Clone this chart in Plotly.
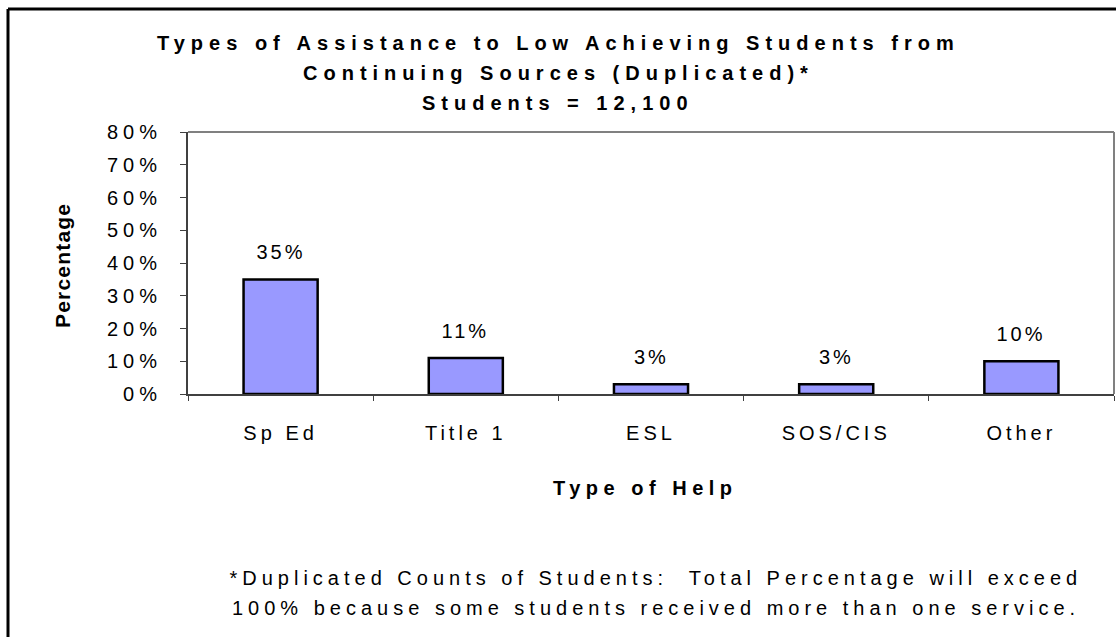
import plotly.graph_objects as go

# Data
categories = ["Sp Ed", "Title 1", "ESL", "SOS/CIS", "Other"]
percentages = [35, 11, 3, 3, 10]
y_tick_values = [0, 10, 20, 30, 40, 50, 60, 70, 80]
y_tick_labels = ["0%", "10%", "20%", "30%", "40%", "50%", "60%", "70%", "80%"]

title_lines = [
    "Types of Assistance to Low Achieving Students from",
    "Continuing Sources (Duplicated)*",
    "Students = 12,100",
]
footnote_lines = [
    "*Duplicated Counts of Students:  Total Percentage will exceed",
    "100% because some students received more than one service.",
]

W, H = 1116, 637
L, R, T, B = 188, 1114, 132, 394  # plot area in pixels
FONT = "Liberation Sans, Arial, sans-serif"


def px_x(x):
    return (x - L) / (R - L)


def px_y(y):
    return (B - y) / (B - T)


fig = go.Figure()
fig.add_trace(go.Bar(
    x=categories,
    y=percentages,
    marker=dict(color="#9999FF", line=dict(color="#000000", width=2.5)),
    width=0.4,
    hoverinfo="skip",
))

annotations = []
spacing = []

# title lines
for text, yc in zip(title_lines, [43, 73, 103]):
    annotations.append(dict(
        text=text, xref="paper", yref="paper", x=px_x(558), y=px_y(yc),
        xanchor="center", yanchor="middle", showarrow=False,
        font=dict(family=FONT, size=20, color="#000", weight="bold"),
    ))
    spacing.append(6.0)

# value labels above bars
for c, v in zip(categories, percentages):
    annotations.append(dict(
        text=f"{v}%", x=c, y=v, xref="x", yref="y", yshift=27,
        xanchor="center", yanchor="middle", showarrow=False,
        font=dict(family=FONT, size=20, color="#000"),
    ))
    spacing.append(3.0)

# axis titles
annotations.append(dict(
    text="Type of Help", xref="paper", yref="paper", x=px_x(645), y=px_y(488),
    xanchor="center", yanchor="middle", showarrow=False,
    font=dict(family=FONT, size=20, color="#000", weight="bold"),
))
spacing.append(5.5)
annotations.append(dict(
    text="Percentage", xref="paper", yref="paper", x=px_x(62), y=px_y(266),
    xanchor="center", yanchor="middle", showarrow=False, textangle=-90,
    font=dict(family=FONT, size=21, color="#000", weight="bold"),
))
spacing.append(1.2)

# footnote
for text, yc in zip(footnote_lines, [578, 608]):
    annotations.append(dict(
        text=text, xref="paper", yref="paper", x=px_x(656), y=px_y(yc),
        xanchor="center", yanchor="middle", showarrow=False,
        font=dict(family=FONT, size=20, color="#000"),
    ))
    spacing.append(5.0)

shapes = [
    # outer frame (top and left edges; the rest runs past the page)
    dict(type="line", xref="paper", yref="paper", x0=px_x(8), x1=px_x(1130),
         y0=px_y(9), y1=px_y(9), line=dict(color="#000", width=3)),
    dict(type="line", xref="paper", yref="paper", x0=px_x(8), x1=px_x(8),
         y0=px_y(9), y1=px_y(660), line=dict(color="#000", width=3)),
    # plot area top and right edges
    dict(type="line", xref="paper", yref="paper", x0=0, x1=1, y0=1, y1=1,
         line=dict(color="#808080", width=2)),
    dict(type="line", xref="paper", yref="paper", x0=1, x1=1, y0=0, y1=1,
         line=dict(color="#808080", width=2)),
]

fig.update_layout(
    width=W, height=H, autosize=False,
    margin=dict(l=L, r=W - R, t=T, b=H - B, pad=0),
    paper_bgcolor="#FFFFFF", plot_bgcolor="#FFFFFF",
    showlegend=False, bargap=0.6,
    font=dict(family=FONT, size=20, color="#000"),
    annotations=annotations, shapes=shapes,
    xaxis=dict(
        type="category", showgrid=False, zeroline=False,
        showline=True, linecolor="#404040", linewidth=2,
        ticks="outside", tickson="boundaries", ticklen=5, tickcolor="#404040",
        tickwidth=1, ticklabelstandoff=20,
        tickfont=dict(family=FONT, size=20, color="#000"),
    ),
    yaxis=dict(
        range=[0, 80], tickvals=y_tick_values, ticktext=y_tick_labels,
        showgrid=False, zeroline=False,
        showline=True, linecolor="#404040", linewidth=2,
        ticks="outside", ticklen=6, tickcolor="#404040", tickwidth=1,
        ticklabelstandoff=14,
        tickfont=dict(family=FONT, size=20, color="#000"),
    ),
)

post = """
var gd = document.getElementById('{plot_id}');
var sp = %s;
function applySpacing() {
  gd.querySelectorAll('g.annotation').forEach(function (g) {
    var i = parseInt(g.getAttribute('data-index'));
    var t = g.querySelector('text');
    if (t && sp[i] !== undefined) { t.style.letterSpacing = sp[i] + 'px'; }
  });
  gd.querySelectorAll('.xtick text').forEach(function (t) { t.style.letterSpacing = '4px'; });
  gd.querySelectorAll('.ytick text').forEach(function (t) { t.style.letterSpacing = '5px'; });
}
applySpacing();
gd.on('plotly_afterplot', applySpacing);
""" % str(spacing)

fig.write_html("out.html", post_script=post, config={"staticPlot": True})
